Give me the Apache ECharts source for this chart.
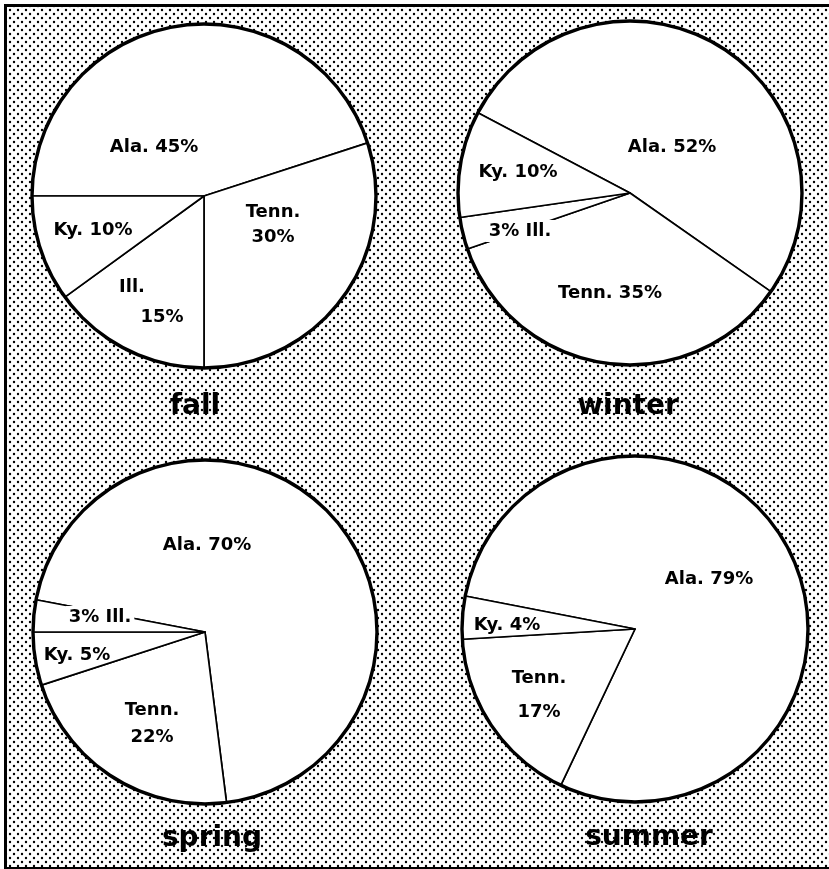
<!DOCTYPE html>
<html><head><meta charset="utf-8">
<script src="https://cdn.jsdelivr.net/npm/echarts@6/dist/echarts.min.js"></script>
<style>html,body{margin:0;padding:0;background:#fff;overflow:hidden;} #c{width:829px;height:869px;}</style>
</head><body><div id="c"></div>
<script>
// ---- data ----
const seasons = ['fall', 'winter', 'spring', 'summer'];
const fallNames = ['Ala.', 'Tenn.', 'Ill.', 'Ky.'];
const fallValues = [45, 30, 15, 10];
const winterNames = ['Ala.', 'Tenn.', 'Ill.', 'Ky.'];
const winterValues = [52, 35, 3, 10];
const springNames = ['Ala.', 'Tenn.', 'Ky.', 'Ill.'];
const springValues = [70, 22, 5, 3];
const summerNames = ['Ala.', 'Tenn.', 'Ky.'];
const summerValues = [79, 17, 4];
const seasonNames = [fallNames, winterNames, springNames, summerNames];
const seasonValues = [fallValues, winterValues, springValues, summerValues];

// ---- layout / style ----
const pieLayout = [
  { center: [204, 196], r: 172, start: 180 },
  { center: [630, 193], r: 172, start: 152.2 },
  { center: [205, 632], r: 172, start: 169.2 },
  { center: [635, 629], r: 173, start: 169 }
];
const labelStyles = [
  [{ x: 154, y: 147, fmt: 'nv' }, { x: 273, y: 225, fmt: 'n/v', lh: 25 }, { x: 147, y: 302, fmt: 'stagger' }, { x: 93, y: 230, fmt: 'nv' }],
  [{ x: 672, y: 147, fmt: 'nv' }, { x: 610, y: 293, fmt: 'nv' }, { x: 520, y: 231, fmt: 'vn', bg: true }, { x: 518, y: 172, fmt: 'nv' }],
  [{ x: 207, y: 545, fmt: 'nv' }, { x: 152, y: 724, fmt: 'n/v', lh: 27 }, { x: 77, y: 655, fmt: 'nv' }, { x: 100, y: 617, fmt: 'vn', bg: true }],
  [{ x: 709, y: 579, fmt: 'nv' }, { x: 539, y: 695, fmt: 'n/v', lh: 34 }, { x: 507, y: 625, fmt: 'nv' }]
];
const titlePos = [[195, 407], [628, 407], [212, 839], [649, 838]];
const labelFont = { fontFamily: 'DejaVu Sans', fontWeight: 'bold', fontSize: 18, color: '#000' };

// dotted pattern tile (offset rows of round dots)
const tile = document.createElement('canvas');
tile.width = 8; tile.height = 8;
(function () {
  const g = tile.getContext('2d');
  g.fillStyle = '#fff'; g.fillRect(0, 0, 8, 8);
  g.fillStyle = '#000';
  [[2, 2], [6, 6]].forEach(function (c) {
    g.beginPath(); g.arc(c[0], c[1], 1.2, 0, Math.PI * 2); g.fill();
  });
})();

function fmtText(p, code) {
  if (code === 'nv') return p.name + ' ' + p.value + '%';
  if (code === 'vn') return p.value + '% ' + p.name;
  if (code === 'n/v') return p.name + '\n' + p.value + '%';
  if (code === 'stagger') return '{a|' + p.name + '}\n{b|' + p.value + '%}';
  return p.name;
}

const series = [];
seasons.forEach(function (s, i) {
  const L = pieLayout[i];
  const LS = labelStyles[i];
  series.push({
    type: 'pie',
    name: s,
    center: L.center,
    radius: L.r,
    startAngle: L.start,
    clockwise: true,
    silent: true,
    animation: false,
    avoidLabelOverlap: false,
    z: 2,
    itemStyle: { color: '#fff', borderColor: '#000', borderWidth: 1.7 },
    labelLine: { show: false },
    emphasis: { disabled: true },
    data: seasonNames[i].map(function (n, j) {
      const st = LS[j];
      const lab = {};
      if (st.lh) lab.lineHeight = st.lh;
      if (st.bg) { lab.backgroundColor = '#fff'; lab.padding = [2, 3]; }
      return { name: n, value: seasonValues[i][j], label: lab };
    }),
    label: Object.assign({
      show: true,
      position: 'inside',
      formatter: function (p) { return fmtText(p, LS[p.dataIndex].fmt); },
      rich: {
        a: Object.assign({ padding: [0, 30, 0, 0], lineHeight: 30 }, labelFont),
        b: Object.assign({ padding: [0, 0, 0, 30], lineHeight: 30 }, labelFont)
      }
    }, labelFont),
    labelLayout: function (p) {
      const st = LS[p.dataIndex];
      return { x: st.x, y: st.y, align: 'center', verticalAlign: 'middle' };
    }
  });
  // thick outer rim
  series.push({
    type: 'pie',
    center: L.center,
    radius: [L.r - 1.7, L.r + 1.7],
    silent: true,
    animation: false,
    z: 3,
    label: { show: false },
    labelLine: { show: false },
    emphasis: { disabled: true },
    itemStyle: { color: '#000', borderWidth: 0 },
    data: [{ value: 1, name: 'rim' }]
  });
});

const graphics = [
  { type: 'rect', z: -10, shape: { x: 5, y: 5, width: 824, height: 864 }, style: { fill: { image: tile, repeat: 'repeat' } } },
  { type: 'rect', z: 50, shape: { x: 4, y: 4, width: 825, height: 3 }, style: { fill: '#000' } },
  { type: 'rect', z: 50, shape: { x: 4, y: 4, width: 3, height: 865 }, style: { fill: '#000' } },
  { type: 'rect', z: 50, shape: { x: 4, y: 867, width: 825, height: 2 }, style: { fill: '#000' } }
];
seasons.forEach(function (s, i) {
  graphics.push({
    type: 'text', z: 60, x: titlePos[i][0], y: titlePos[i][1],
    style: { text: s, fill: '#000', font: 'bold 28px "DejaVu Sans"', align: 'center', verticalAlign: 'middle' }
  });
});

const chart = echarts.init(document.getElementById('c'), null, { renderer: 'canvas' });
chart.setOption({
  animation: false,
  backgroundColor: '#fff',
  graphic: { elements: graphics },
  series: series
});
</script>
</body></html>
